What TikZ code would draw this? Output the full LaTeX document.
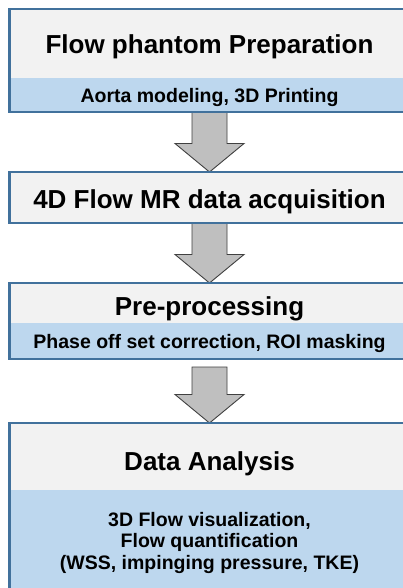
\documentclass[tikz,border=0pt]{standalone}
\usepackage{fontspec}
\setmainfont{Liberation Sans}
\usetikzlibrary{calc}
\definecolor{bordblue}{HTML}{41719C}
\definecolor{bandblue}{HTML}{BDD7EE}
\definecolor{topgray}{HTML}{F2F2F2}
\definecolor{arrgray}{HTML}{BFBFBF}
\definecolor{arrline}{HTML}{404040}
\tikzset{
  fillbox/.style={rectangle, inner sep=0pt, outer sep=0pt, minimum width=400pt},
  bandbox/.style={fillbox, fill=bandblue},
  graybox/.style={fillbox, fill=topgray},
  frame/.style={draw=bordblue, line width=2.3pt},
  blockarrow/.style={fill=arrgray, draw=arrline, line width=0.9pt, line join=miter},
  titletext/.style={anchor=base, inner sep=0pt, font=\bfseries\fontsize{26}{31}\selectfont},
  subtext/.style={anchor=base, inner sep=0pt, font=\bfseries\fontsize{19.5}{21.7}\selectfont, align=center},
}
\begin{document}
\begin{tikzpicture}[x=1pt,y=-1pt]
\useasboundingbox (0,0) rectangle (403,588);
\clip (0,0) rectangle (403,588);
\fill[white] (0,0) rectangle (403,588);
% box fills
\node[bandbox, minimum height=103pt] (box1) at (209.5,60.5) {};
\node[graybox, minimum height=69pt, anchor=north] (top1) at (box1.north) {};
\node[graybox, minimum height=51pt] (box2) at (209.5,197.5) {};
\node[bandbox, minimum height=76pt] (box3) at (209.5,321) {};
\node[graybox, minimum height=40pt, anchor=north] (top3) at (box3.north) {};
\node[bandbox, minimum height=168pt] (box4) at (209.5,507) {};
\node[graybox, minimum height=67pt, anchor=north] (top4) at (box4.north) {};
% block arrows
\draw[blockarrow] ($(box1.south)+(-17.5,0)$) -- ($(box2.north)+(-17.5,-28.5)$) -- ($(box2.north)+(-34.5,-28.5)$) -- (box2.north) -- ($(box2.north)+(34.5,-28.5)$) -- ($(box2.north)+(17.5,-28.5)$) -- ($(box1.south)+(17.5,0)$) -- cycle;
\draw[blockarrow] ($(box2.south)+(-17.5,0)$) -- ($(box3.north)+(-17.5,-28.5)$) -- ($(box3.north)+(-34.5,-28.5)$) -- (box3.north) -- ($(box3.north)+(34.5,-28.5)$) -- ($(box3.north)+(17.5,-28.5)$) -- ($(box2.south)+(17.5,0)$) -- cycle;
\draw[blockarrow] ($(box3.south)+(-17.5,8)$) -- ($(box4.north)+(-17.5,-28.5)$) -- ($(box4.north)+(-34.5,-28.5)$) -- (box4.north) -- ($(box4.north)+(34.5,-28.5)$) -- ($(box4.north)+(17.5,-28.5)$) -- ($(box3.south)+(17.5,8)$) -- cycle;
% frames
\draw[frame] (box1.north west) rectangle (box1.south east);
\draw[frame] (box2.north west) rectangle (box2.south east);
\draw[frame] (box3.north west) rectangle (box3.south east);
\draw[frame] (box4.north west) rectangle (box4.south east);
% texts
\node[titletext] (t1) at (209.5,53.5) {Flow phantom Preparation};
\node[subtext] (s1) at (209.5,103) {Aorta modeling, 3D Printing};
\node[titletext] (t2) at (209.5,208) {4D Flow MR data acquisition};
\node[titletext] (t3) at (209.5,315) {Pre-processing};
\node[subtext] (s3) at (209.5,348) {Phase off set correction, ROI masking};
\node[titletext] (t4) at (209.5,470) {Data Analysis};
\node[subtext] (s4a) at (209.5,526) {3D Flow visualization,};
\node[subtext] (s4b) at (209.5,547.7) {Flow quantification};
\node[subtext] (s4c) at (209.5,569.3) {(WSS, impinging pressure, TKE)};
\end{tikzpicture}
\end{document}
